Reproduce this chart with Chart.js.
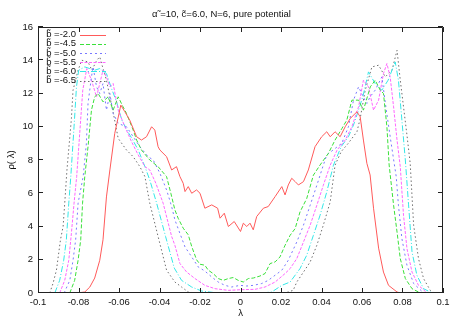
<!DOCTYPE html>
<html>
<head>
<meta charset="utf-8">
<script src="https://cdn.jsdelivr.net/npm/chart.js@4/dist/chart.umd.min.js"></script>
<style>
html,body{margin:0;padding:0;background:#fff;}
canvas{display:block;}
</style>
</head>
<body>
<canvas id="c" width="459" height="322"></canvas>
<script>
// ---- data ----
const titleText = "\u03B1\u0303 =10, c\u0303=6.0, N=6, pure potential";
const xTitle = "\u03BB";
const yTitle = "\u03C1( \u03BB)";
const seriesLabels = ["b\u0303 =-2.0","b\u0303 =-4.5","b\u0303 =-5.0","b\u0303 =-5.5","b\u0303 =-6.0","b\u0303 =-6.5"];

const xTickValues = [-0.1,-0.08,-0.06,-0.04,-0.02,0,0.02,0.04,0.06,0.08,0.1];
const xTickLabels = ["-0.1","-0.08","-0.06","-0.04","-0.02","0","0.02","0.04","0.06","0.08","0.1"];
const yTickValues = [0,2,4,6,8,10,12,14,16];
const yTickLabels = ["0","2","4","6","8","10","12","14","16"];

// b = -2.0
const lamB20 = [-0.0804,-0.0794,-0.0769,-0.0744,-0.0720,-0.0695,-0.0679,-0.0662,-0.0645,-0.0621,-0.0591,-0.0571,-0.0547,-0.0513,-0.0489,-0.0464,-0.0439,-0.0423,-0.0407,-0.0398,-0.0365,-0.0340,-0.0316,-0.0299,-0.0283,-0.0274,-0.0258,-0.0241,-0.0217,-0.0200,-0.0176,-0.0142,-0.0113,-0.0101,-0.0080,-0.0060,-0.0031,0.0000,0.0014,0.0031,0.0047,0.0063,0.0080,0.0113,0.0137,0.0171,0.0204,0.0220,0.0236,0.0253,0.0270,0.0286,0.0311,0.0335,0.0368,0.0401,0.0426,0.0443,0.0467,0.0492,0.0517,0.0542,0.0575,0.0591,0.0607,0.0624,0.0640,0.0657,0.0682,0.0706,0.0731,0.0773,0.0790];
const rhoB20 = [0,0.02,0.06,0.36,0.9,1.97,3.2,5.78,7.4,9.6,11.3,10.9,10.4,9.4,9.2,9.4,10.0,9.8,8.8,8.6,8.2,7.4,7.6,7.0,6.6,6.1,6.4,6.0,6.2,6.0,5.1,5.3,5.1,4.5,4.8,4.0,4.3,3.7,4.2,4.0,4.2,3.8,4.6,5.1,5.2,5.8,6.4,5.9,6.5,6.9,6.7,6.5,6.7,7.4,8.8,9.4,9.7,9.4,9.7,9.4,10.0,10.5,10.9,10.6,9.2,7.8,7.1,5.1,2.7,1.26,0.46,0.06,0];

// b = -4.5
const lamB45 = [-0.0843,-0.0819,-0.0802,-0.0789,-0.0780,-0.0769,-0.0753,-0.0736,-0.0720,-0.0703,-0.0679,-0.0654,-0.0629,-0.0604,-0.0580,-0.0563,-0.0530,-0.0513,-0.0489,-0.0448,-0.0407,-0.0365,-0.0344,-0.0324,-0.0308,-0.0283,-0.0258,-0.0241,-0.0217,-0.0200,-0.0176,-0.0159,-0.0135,-0.0110,-0.0085,-0.0060,-0.0036,-0.0011,0.0014,0.0039,0.0063,0.0096,0.0121,0.0146,0.0171,0.0195,0.0220,0.0245,0.0270,0.0294,0.0327,0.0360,0.0393,0.0434,0.0467,0.0501,0.0525,0.0550,0.0583,0.0607,0.0641,0.0665,0.0690,0.0706,0.0723,0.0734,0.0756,0.0773,0.0789,0.0814,0.0847,0.0879,0.0888];
const rhoB45 = [0,0.76,1.97,3.2,5.4,7.0,8.8,11.0,11.8,12.0,11.5,11.8,11.0,11.8,11.2,10.8,9.8,9.2,8.6,8.0,7.6,7.0,6.0,5.0,4.5,3.9,3.5,2.8,2.0,1.73,1.67,1.37,1.17,0.87,0.76,0.87,0.93,0.76,0.66,0.87,0.9,1.02,1.17,1.77,1.87,2.17,2.87,3.47,3.88,4.88,5.68,7.09,7.7,8.4,9.2,9.9,10.4,11.6,11.6,11.0,12.4,12.8,12.2,12.0,10.0,7.7,5.28,3.67,2.07,0.87,0.26,0.06,0];

// b = -5.0
const lamB50 = [-0.0871,-0.0843,-0.0827,-0.0814,-0.0802,-0.0777,-0.0761,-0.0753,-0.0736,-0.0728,-0.0711,-0.0695,-0.0679,-0.0662,-0.0645,-0.0629,-0.0604,-0.0563,-0.0530,-0.0497,-0.0456,-0.0431,-0.0398,-0.0365,-0.0340,-0.0324,-0.0299,-0.0274,-0.0241,-0.0209,-0.0176,-0.0142,-0.0110,-0.0077,-0.0044,-0.0002,0.0031,0.0063,0.0105,0.0137,0.0171,0.0204,0.0236,0.0278,0.0311,0.0344,0.0377,0.0409,0.0426,0.0457,0.0500,0.0533,0.0558,0.0583,0.0606,0.0624,0.0640,0.0665,0.0698,0.0720,0.0744,0.0769,0.0780,0.0797,0.0822,0.0855,0.0896,0.0908];
const rhoB50 = [0,0.76,1.97,3.2,5.4,7.0,9.0,11.4,13.0,13.6,12.4,12.0,12.6,11.0,12.0,10.8,10.2,10.0,9.4,8.8,8.2,8.0,7.2,6.2,5.2,4.4,3.58,2.77,2.17,1.57,1.32,0.96,0.66,0.46,0.36,0.46,0.42,0.46,0.57,0.76,1.07,1.37,1.97,3.07,4.08,5.28,6.48,7.69,8.3,8.6,9.0,10.0,11.6,12.4,11.8,11.4,11.8,12.2,13.0,11.0,9.0,7.0,5.28,3.27,1.67,0.57,0.1,0];

// b = -5.5
const lamB55 = [-0.0893,-0.0868,-0.0848,-0.0835,-0.0822,-0.0809,-0.0794,-0.0779,-0.0759,-0.0736,-0.0711,-0.0695,-0.0679,-0.0662,-0.0645,-0.0629,-0.0604,-0.0571,-0.0538,-0.0505,-0.0472,-0.0448,-0.0418,-0.0382,-0.0340,-0.0324,-0.0299,-0.0266,-0.0225,-0.0176,-0.0126,-0.0060,0.0006,0.0072,0.0121,0.0171,0.0220,0.0245,0.0278,0.0311,0.0344,0.0377,0.0409,0.0443,0.0477,0.0517,0.0550,0.0583,0.0607,0.0632,0.0657,0.0682,0.0706,0.0723,0.0739,0.0756,0.0773,0.0789,0.0805,0.0822,0.0847,0.0879,0.0912,0.0922];
const rhoB55 = [0,0.76,1.97,3.6,5.4,7.0,9.6,12.2,13.5,12.8,11.8,12.6,13.4,13.0,12.4,12.6,11.0,10.0,9.1,8.3,7.6,7.4,6.6,5.4,3.4,2.87,1.77,1.26,0.87,0.46,0.26,0.16,0.2,0.22,0.36,0.66,1.17,1.47,2.07,3.07,4.08,5.28,6.48,7.69,8.6,9.2,10.0,11.2,12.8,12.4,11.0,11.6,13.2,13.8,13.0,11.2,9.2,7.6,4.68,2.67,1.26,0.46,0.1,0];

// b = -6.0
const lamB60 = [-0.0917,-0.0893,-0.0873,-0.0860,-0.0848,-0.0838,-0.0822,-0.0810,-0.0799,-0.0769,-0.0720,-0.0695,-0.0662,-0.0637,-0.0612,-0.0586,-0.0561,-0.0532,-0.0505,-0.0472,-0.0448,-0.0414,-0.0370,-0.0327,-0.0291,-0.0241,-0.0192,-0.0126,0.0000,0.0121,0.0154,0.0204,0.0245,0.0294,0.0327,0.0360,0.0393,0.0426,0.0459,0.0497,0.0533,0.0558,0.0583,0.0606,0.0632,0.0665,0.0698,0.0729,0.0764,0.0780,0.0797,0.0814,0.0830,0.0847,0.0871,0.0904,0.0937,0.0947];
const rhoB60 = [0,0.76,1.97,3.2,5.4,7.0,10.0,12.4,13.4,13.6,13.4,13.5,13.2,12.3,11.5,10.4,9.8,9.2,8.6,7.6,6.8,5.4,3.4,1.5,0.76,0.36,0.12,0.02,0,0.02,0.06,0.46,0.66,1.47,2.27,3.47,4.68,6.08,7.69,8.8,9.4,10.1,11.0,11.9,13.3,12.6,12.2,12.8,13.9,12.8,10.4,8.0,5.3,2.47,1.07,0.26,0.06,0];

// b = -6.5
const lamB65 = [-0.0942,-0.0926,-0.0909,-0.0889,-0.0876,-0.0868,-0.0857,-0.0835,-0.0827,-0.0802,-0.0784,-0.0753,-0.0734,-0.0710,-0.0695,-0.0686,-0.0662,-0.0645,-0.0631,-0.0604,-0.0563,-0.0530,-0.0497,-0.0472,-0.0448,-0.0407,-0.0365,-0.0324,-0.0291,-0.0258,-0.0225,0.0220,0.0260,0.0278,0.0311,0.0344,0.0377,0.0409,0.0443,0.0467,0.0497,0.0532,0.0575,0.0591,0.0616,0.0649,0.0682,0.0715,0.0748,0.0773,0.0789,0.0805,0.0822,0.0838,0.0855,0.0879,0.0904,0.0937,0.0957];
const rhoB65 = [0,0.57,1.37,3.2,4.0,5.4,7.4,10.5,12.2,13.4,14.0,13.9,13.4,14.0,14.2,13.8,12.8,11.8,11.0,9.3,8.6,8.2,7.6,7.0,5.4,3.4,1.37,0.66,0.36,0.06,0,0,0.16,0.66,1.26,1.87,2.87,4.08,5.48,7.69,8.5,9.0,9.7,10.5,12.2,13.6,13.7,13.0,13.4,14.6,12.8,11.2,9.5,7.8,4.08,2.07,0.87,0.16,0];

const seriesX = [lamB20, lamB45, lamB50, lamB55, lamB60, lamB65];
const seriesY = [rhoB20, rhoB45, rhoB50, rhoB55, rhoB60, rhoB65];

// ---- styles ----
const colors = ["#ff5a5a","#3ae03a","#7878ff","#ff66ff","#33e8e8","#6e6e6e"];
const dashes = [[],[4,2],[2,3],[3,1.5],[6,2,1,2],[1.5,2.5]];
const FONT = "'Liberation Sans', Arial, Helvetica, sans-serif";

function zip(xs, ys){
  const n = Math.min(xs.length, ys.length);
  const out = [];
  for (let i=0;i<n;i++) out.push({x: xs[i], y: ys[i]});
  return out;
}

const datasets = seriesLabels.map((lab,i)=>({
  label: lab,
  data: zip(seriesX[i], seriesY[i]),
  borderColor: colors[i],
  backgroundColor: colors[i],
  borderWidth: 1,
  borderDash: dashes[i],
  pointRadius: 0,
  tension: 0,
  fill: false
}));

const framePlugin = {
  id: 'frame',
  afterDatasetsDraw(chart){
    const {ctx, chartArea: a, scales} = chart;
    ctx.save();
    ctx.strokeStyle = '#222';
    ctx.lineWidth = 1;
    ctx.setLineDash([]);
    ctx.beginPath();
    ctx.rect(Math.round(a.left)+0.5, Math.round(a.top)+0.5, Math.round(a.right-a.left)-1, Math.round(a.bottom-a.top)-1);
    ctx.stroke();
    const tl = 5;
    ctx.beginPath();
    scales.x.ticks.forEach(t=>{
      const px = Math.round(scales.x.getPixelForValue(t.value))+0.5;
      ctx.moveTo(px, a.bottom); ctx.lineTo(px, a.bottom - tl);
      ctx.moveTo(px, a.top); ctx.lineTo(px, a.top + tl);
    });
    scales.y.ticks.forEach(t=>{
      const py = Math.round(scales.y.getPixelForValue(t.value))-0.5;
      ctx.moveTo(a.left, py); ctx.lineTo(a.left + tl, py);
      ctx.moveTo(a.right, py); ctx.lineTo(a.right - tl, py);
    });
    ctx.stroke();

    // key inside the plot, top-left
    ctx.font = '9.5px ' + FONT;
    ctx.textAlign = 'right';
    ctx.textBaseline = 'middle';
    chart.data.datasets.forEach((ds,i)=>{
      const y = a.top + 7.5 + 9.2*i;
      ctx.fillStyle = '#111';
      ctx.fillText(ds.label, a.left + 38, y);
      ctx.strokeStyle = ds.borderColor;
      ctx.setLineDash(ds.borderDash || []);
      ctx.beginPath();
      ctx.moveTo(a.left + 42, Math.round(y)+0.5);
      ctx.lineTo(a.left + 68, Math.round(y)+0.5);
      ctx.stroke();
    });
    ctx.restore();
  }
};

new Chart(document.getElementById('c'), {
  type: 'line',
  data: { datasets },
  options: {
    responsive: false,
    animation: false,
    devicePixelRatio: 1,
    layout: { padding: { left: 0, right: 16, top: 0, bottom: 0 } },
    plugins: {
      legend: { display: false },
      tooltip: { enabled: false },
      title: {
        display: true,
        text: titleText,
        color: '#111',
        font: { family: FONT, size: 9.5, weight: 'normal' },
        padding: { top: 9, bottom: 6.6 }
      }
    },
    scales: {
      x: {
        type: 'linear',
        min: -0.1, max: 0.1,
        afterBuildTicks: s => { s.ticks = xTickValues.map(v=>({value:v})); },
        afterFit: s => { s.height = 29; },
        grid: { display: false, drawTicks: false },
        border: { display: false },
        ticks: {
          color: '#111',
          font: { family: FONT, size: 9.5 },
          padding: 4,
          maxRotation: 0,
          autoSkip: false,
          callback: (v, i) => xTickLabels[i]
        },
        title: {
          display: true, text: xTitle, color: '#111',
          font: { family: FONT, size: 9.5 },
          padding: { top: 0, bottom: 3 }
        }
      },
      y: {
        type: 'linear',
        min: 0, max: 16,
        afterBuildTicks: s => { s.ticks = yTickValues.map(v=>({value:v})); },
        afterFit: s => { s.width = 38; },
        grid: { display: false, drawTicks: false },
        border: { display: false },
        ticks: {
          color: '#111',
          font: { family: FONT, size: 9.5 },
          padding: 5,
          autoSkip: false,
          callback: (v, i) => yTickLabels[i]
        },
        title: {
          display: true, text: yTitle, color: '#111',
          font: { family: FONT, size: 9.5 },
          padding: { top: 6, bottom: 0 }
        }
      }
    }
  },
  plugins: [framePlugin]
});
</script>
</body>
</html>
